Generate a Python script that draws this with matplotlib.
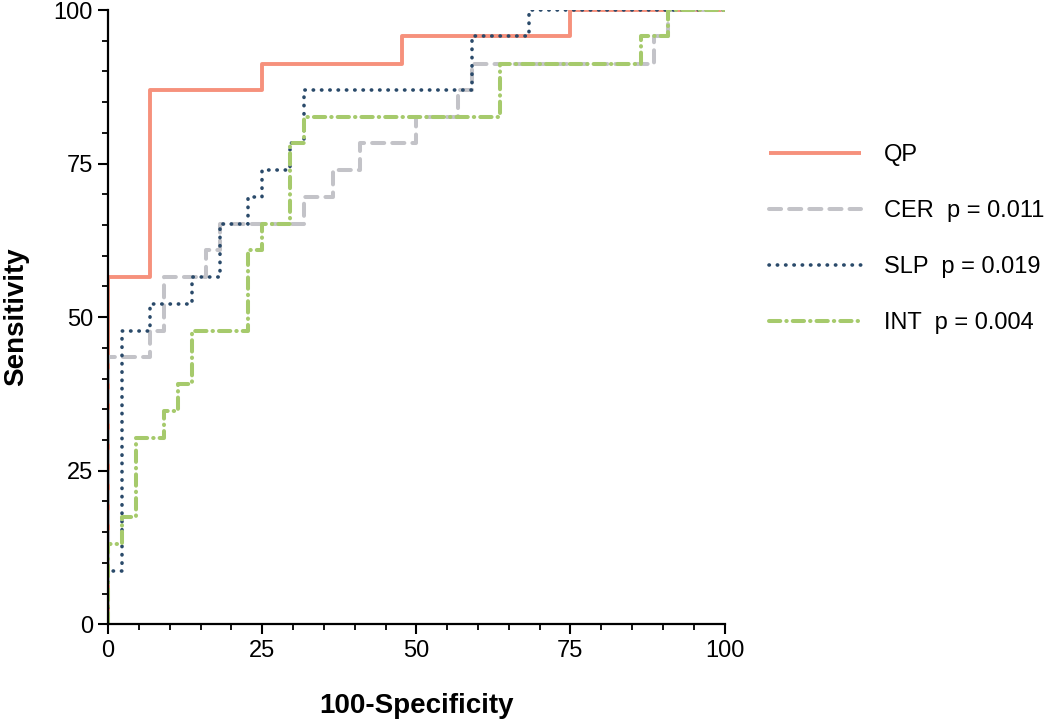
import matplotlib
matplotlib.use("Agg")
import matplotlib.pyplot as plt
from matplotlib.ticker import MultipleLocator

plt.rcParams['font.family'] = ['Liberation Sans', 'DejaVu Sans']

# ROC step points (100-specificity, sensitivity), drawn as steps-post
qp_x = [0, 0, 6.8, 25.0, 47.7, 75.0, 100]
qp_y = [0, 56.5, 87.0, 91.3, 95.7, 100, 100]

cer_x = [0, 0, 6.8, 9.1, 15.9, 18.2, 31.8, 36.4, 40.9, 50.0, 56.8, 59.1, 88.6, 90.9, 100]
cer_y = [0, 43.5, 47.8, 56.5, 60.9, 65.2, 69.6, 73.9, 78.3, 82.6, 87.0, 91.3, 95.7, 100, 100]

slp_x = [0, 0, 2.3, 6.8, 13.6, 18.2, 22.7, 25.0, 29.5, 31.8, 59.1, 68.2, 100]
slp_y = [0, 8.7, 47.8, 52.2, 56.5, 65.2, 69.6, 73.9, 78.3, 87.0, 95.7, 100, 100]

int_x = [0, 0, 2.3, 4.5, 9.1, 11.4, 13.6, 22.7, 25.0, 29.5, 31.8, 63.6, 86.4, 90.9, 100]
int_y = [0, 13.0, 17.4, 30.4, 34.8, 39.1, 47.8, 60.9, 65.2, 78.3, 82.6, 91.3, 95.7, 100, 100]

labels = ["QP", "CER  p = 0.011", "SLP  p = 0.019", "INT  p = 0.004"]
colors = ["#F6917C", "#C3C3C8", "#2A4A6A", "#A6CA6C"]

fig = plt.figure(figsize=(10.5, 7.2), dpi=100)
ax = fig.add_axes([0.103, 0.133, 0.587, 0.853])

ax.plot(qp_x, qp_y, drawstyle='steps-post', color=colors[0], lw=2.8,
        label=labels[0], solid_capstyle='butt')
ax.plot(cer_x, cer_y, drawstyle='steps-post', color=colors[1], lw=2.9,
        label=labels[1], dashes=(3.0, 2.0), dash_capstyle='round')
ax.plot(slp_x, slp_y, drawstyle='steps-post', color=colors[2], lw=2.6,
        label=labels[2], dashes=(0.1, 2.2), dash_capstyle='round')
ax.plot(int_x, int_y, drawstyle='steps-post', color=colors[3], lw=2.9,
        label=labels[3], dashes=(2.8, 1.5, 0.1, 1.5), dash_capstyle='round')

ax.set_xlim(0, 100)
ax.set_ylim(0, 100)
ax.xaxis.set_major_locator(MultipleLocator(25))
ax.yaxis.set_major_locator(MultipleLocator(25))
ax.xaxis.set_minor_locator(MultipleLocator(5))
ax.yaxis.set_minor_locator(MultipleLocator(5))
ax.tick_params(which='major', length=7, width=1.5, labelsize=17, direction='out', pad=4)
ax.tick_params(which='minor', length=4, width=1.3, direction='out')
for s in ['top', 'right']:
    ax.spines[s].set_visible(False)
for s in ['left', 'bottom']:
    ax.spines[s].set_linewidth(1.6)

ax.set_xlabel("100-Specificity", fontsize=20, fontweight='bold')
ax.set_ylabel("Sensitivity", fontsize=20, fontweight='bold')
ax.xaxis.set_label_coords(0.5, -0.112)
ax.yaxis.set_label_coords(-0.128, 0.5)

ax.legend(loc='upper left', bbox_to_anchor=(1.037, 0.8165), frameon=False,
          fontsize=17, handlelength=3.9, handletextpad=1.0, labelspacing=1.44)

fig.savefig("out.png", dpi=100)
